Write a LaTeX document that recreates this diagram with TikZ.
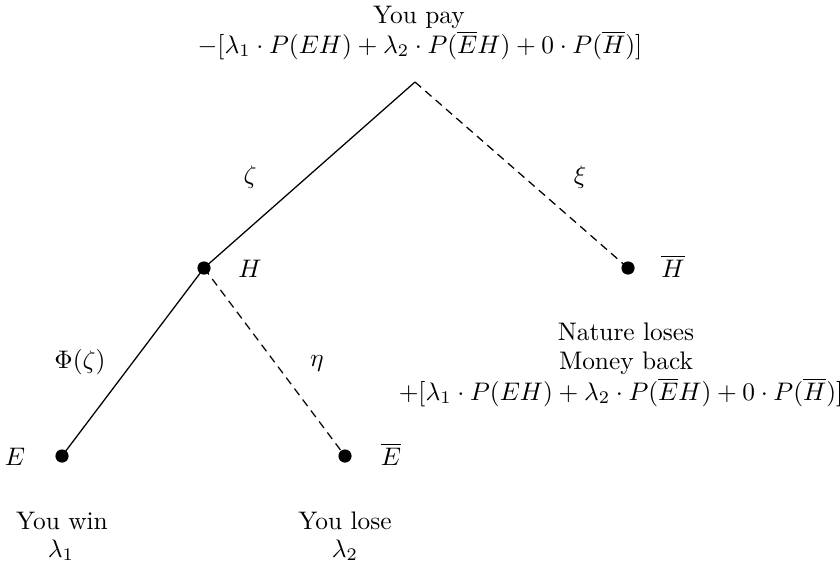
\documentclass[tikz,border=0pt]{standalone}
\begin{document}
\begin{tikzpicture}[x=0.394pt,y=-0.394pt,
  dot/.style={circle,fill=black,inner sep=0pt,minimum size=5.2pt},
  lbl/.style={inner sep=0pt,anchor=base},
  txt/.style={inner sep=0pt,anchor=base},
  edge/.style={line width=0.5pt},
  dedge/.style={line width=0.5pt,dash pattern=on 3.2pt off 2.2pt}]
\useasboundingbox (0,0) rectangle (840,565);
\coordinate (root) at (415,82);
\node[dot] (H) at (204,268) {};
\node[dot] (Hb) at (628,268) {};
\node[dot] (E) at (62,456) {};
\node[dot] (Eb) at (345,456) {};
\draw[edge] (root) -- (H.center);
\draw[dedge] (root) -- (Hb.center);
\draw[edge] (H.center) -- (E.center);
\draw[dedge] (H.center) -- (Eb.center);
\node[txt] (top1) at (419,23) {You pay};
\node[txt] (top2) at (420,53) {$-[\lambda_1\cdot P(EH)+\lambda_2\cdot P(\overline{E}H)+0\cdot P(\overline{H})]$};
\node[lbl] (zeta) at (250,183) {$\zeta$};
\node[lbl] (xi) at (580,183) {$\xi$};
\node[lbl] (Hl) at (250,277) {$H$};
\node[lbl] (Hbl) at (673,277) {$\overline{H}$};
\node[lbl] (phi) at (80,368) {$\Phi(\zeta)$};
\node[lbl] (eta) at (317,366) {$\eta$};
\node[lbl] (El) at (15,465) {$E$};
\node[lbl] (Ebl) at (391,465) {$\overline{E}$};
\node[txt] (n1) at (626,340) {Nature loses};
\node[txt] (n2) at (626,369) {Money back};
\node[txt] (n3) at (621,400) {$+[\lambda_1\cdot P(EH)+\lambda_2\cdot P(\overline{E}H)+0\cdot P(\overline{H})]$};
\node[txt] (w1) at (62,529) {You win};
\node[txt] (w2) at (61,557) {$\lambda_1$};
\node[txt] (l1) at (345,529) {You lose};
\node[txt] (l2) at (345,557) {$\lambda_2$};
\end{tikzpicture}
\end{document}
